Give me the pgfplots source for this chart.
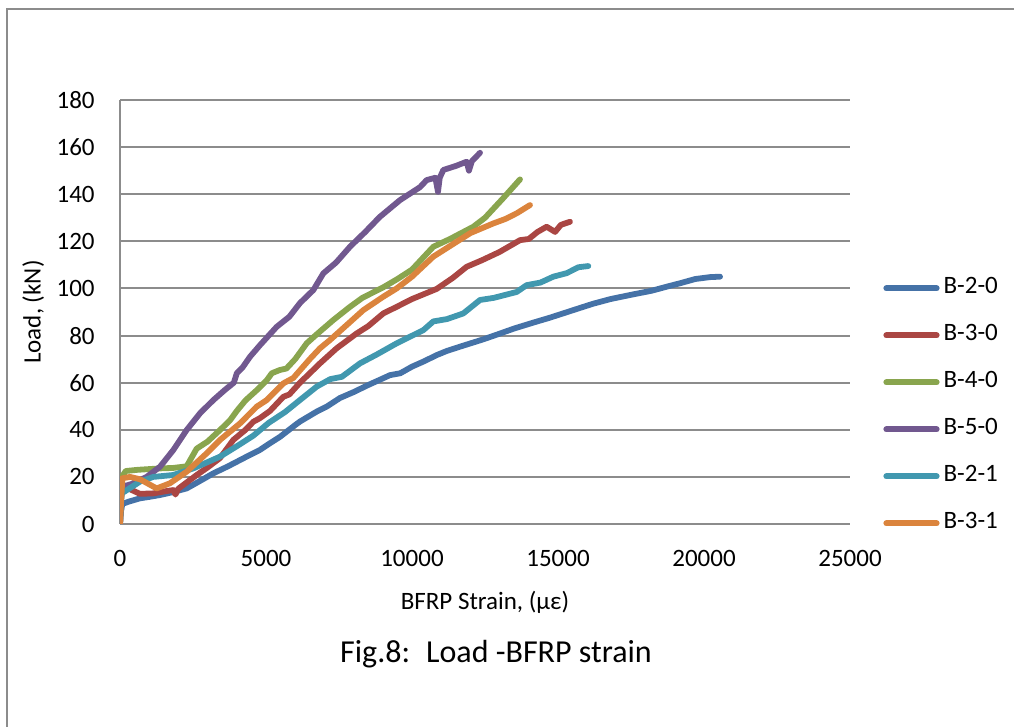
\documentclass[border=0pt]{standalone}
\usepackage{fontspec}
\setmainfont{Carlito}
\usepackage{pgfplots}
\pgfplotsset{compat=1.18}
\definecolor{cA}{HTML}{4572A7}
\definecolor{cB}{HTML}{AA4643}
\definecolor{cC}{HTML}{89A54E}
\definecolor{cD}{HTML}{71588F}
\definecolor{cE}{HTML}{4198AF}
\definecolor{cF}{HTML}{DB843D}
\definecolor{gridgray}{HTML}{8C8C8C}
\begin{document}
\begin{tikzpicture}
\path[use as bounding box] (0bp,0bp) rectangle (507bp,363.5bp);
\draw[gridgray, line width=1bp] (3.5bp,-20bp) -- (3.5bp,359bp) -- (540bp,359bp);
\begin{axis}[
  at={(60bp,101.5bp)}, anchor=south west,
  width=365bp, height=212bp, scale only axis,
  xmin=0, xmax=25000, ymin=0, ymax=180,
  xtick={0,5000,...,25000}, ytick={0,20,...,180},
  scaled x ticks=false,
  ymajorgrids, grid style={gridgray, line width=1bp},
  axis lines*=left,
  axis line style={-, gridgray, line width=1bp},
  major tick length=0pt, tick style={draw=none},
  /pgf/number format/assume math mode=true,
  /pgf/number format/1000 sep={},
  ticklabel style={font=\fontsize{12.5bp}{15bp}\selectfont, inner sep=0pt},
  yticklabel style={anchor=east, xshift=-12.5bp},
  xticklabel style={anchor=north, yshift=-13bp},
  label style={font=\fontsize{12.5bp}{15bp}\selectfont},
  xlabel={BFRP Strain, (με)},
  ylabel={Load, (kN)},
  xlabel style={at={(axis description cs:0.5,-0.184)}, anchor=center},
  ylabel style={at={(axis description cs:-0.119,0.5)}, anchor=center},
  legend style={at={(axis description cs:1.0452,0.585)}, anchor=north west,
    draw=none, fill=none, font=\fontsize{12.5bp}{15bp}\selectfont,
    row sep=11.5bp, inner sep=0pt,
    nodes={inner sep=0pt, text height=8.5bp, text depth=3.5bp},
    /tikz/every odd column/.style={column sep=2bp}},
  legend cell align=left,
  legend image code/.code={\draw[#1, line cap=round] (1.4bp,0bp) -- (26.6bp,0bp);},
  every axis plot/.append style={line width=2.9bp, line join=round, line cap=round},
]
\addplot[cA] coordinates {
(0,0) (30,5) (80,8.5) (300,9.5) (685,10.9) (1000,11.5) (1370,12.3) (1800,13.5)
(2283,15.1) (2700,18) (3196,21.5) (3700,24.5) (4338,28.6) (4800,31.5) (5100,34)
(5479,37) (6000,42) (6164,43.5) (6735,47.7) (7100,50) (7534,53.5) (8000,56)
(8500,59) (9000,61.8) (9247,63.2) (9600,64) (10000,66.8) (10400,69) (10845,71.7)
(11200,73.5) (11700,75.5) (12443,78.4) (13000,80.8) (13500,83) (14155,85.5)
(14700,87.5) (15200,89.5) (15696,91.5) (16200,93.5) (16800,95.5) (17580,97.5)
(18200,99) (18800,101) (19178,102.2) (19700,104) (20200,104.8) (20550,105)};
\addlegendentry{B-2-0}
\addplot[cB] coordinates {
(0,0) (40,12) (60,17) (300,15) (685,12.8) (1140,13) (1600,14) (1826,14.4)
(1900,12.5) (2000,15) (2626,20.8) (3000,24) (3425,28) (3881,35.7) (4300,40)
(4566,43.4) (4800,45) (5137,48) (5594,54) (5800,55) (6164,60) (6500,64)
(6849,68.2) (7420,74.6) (8105,80.9) (8500,84) (9018,89.4) (9475,92.2)
(10000,95.5) (10845,99.8) (11400,104.5) (11872,109.2) (12400,112) (13000,115.5)
(13699,120.5) (14000,121) (14300,124) (14612,126.2) (14900,124) (15100,127)
(15411,128.3)};
\addlegendentry{B-3-0}
\addplot[cC] coordinates {
(0,0) (30,10) (60,20) (200,22.5) (600,23) (1370,23.6) (1826,23.8) (2283,24.5)
(2626,32) (3000,35) (3425,39.9) (3767,44) (4000,48) (4300,52.5) (4700,57)
(5023,61) (5200,64) (5479,65.4) (5700,66) (6000,70) (6393,76.7) (6735,80.5)
(7306,86.6) (7877,92.2) (8300,96) (9018,100.5) (9500,104) (10000,108)
(10730,117.7) (11300,121) (12100,126.2) (12500,130) (13100,138) (13699,146.3)};
\addlegendentry{B-4-0}
\addplot[cD] coordinates {
(0,0) (30,10) (80,15.8) (400,17) (913,20) (1370,24.3) (1826,31.4) (2283,39.9)
(2740,47) (3196,52.6) (3600,57) (3900,60) (4000,64) (4200,66.5) (4452,71)
(4800,76) (5365,83.7) (5800,88) (6164,93.8) (6621,99.3) (6963,106.4) (7400,111)
(7877,117.7) (8400,124) (8900,130.4) (9589,137.5) (10274,143) (10502,146)
(10800,147) (10890,141) (10950,147) (11073,150.3) (11500,152) (11872,153.8)
(11950,150) (12050,154) (12330,157.6)};
\addlegendentry{B-5-0}
\addplot[cE] coordinates {
(0,0) (30,8) (60,13) (685,18) (1142,20) (1826,20.8) (2511,23.6) (3425,28.6)
(4000,33) (4566,37.5) (5100,43) (5650,47.5) (6200,53) (6735,58.3) (7200,61.5)
(7600,62.5) (8219,68.2) (8800,72) (9475,76.7) (10388,82.3) (10730,86) (11200,87)
(11757,89.4) (12329,95.1) (12800,96) (13584,98.5) (13927,101.4) (14400,102.5)
(14840,105) (15300,106.5) (15700,109) (16038,109.5)};
\addlegendentry{B-2-1}
\addplot[cF] coordinates {
(0,0) (40,10) (80,19.4) (342,20) (685,19) (1256,15.1) (1712,17.3) (2283,22.2)
(2968,30) (3425,35.7) (4110,42.7) (4680,49.8) (5023,52.6) (5594,59.7) (5936,62)
(6500,70) (6849,74.6) (7192,78.1) (8333,90.8) (9018,96.5) (9475,100) (10000,105)
(10730,113.5) (11300,118) (12000,123.5) (12785,127.6) (13200,129.5) (13600,132)
(14041,135.4)};
\addlegendentry{B-3-1}
\end{axis}
\node[anchor=base, font=\fontsize{16bp}{19bp}\selectfont] at (248bp,32.5bp) {Fig.8:\enspace Load -BFRP strain};
\end{tikzpicture}
\end{document}
